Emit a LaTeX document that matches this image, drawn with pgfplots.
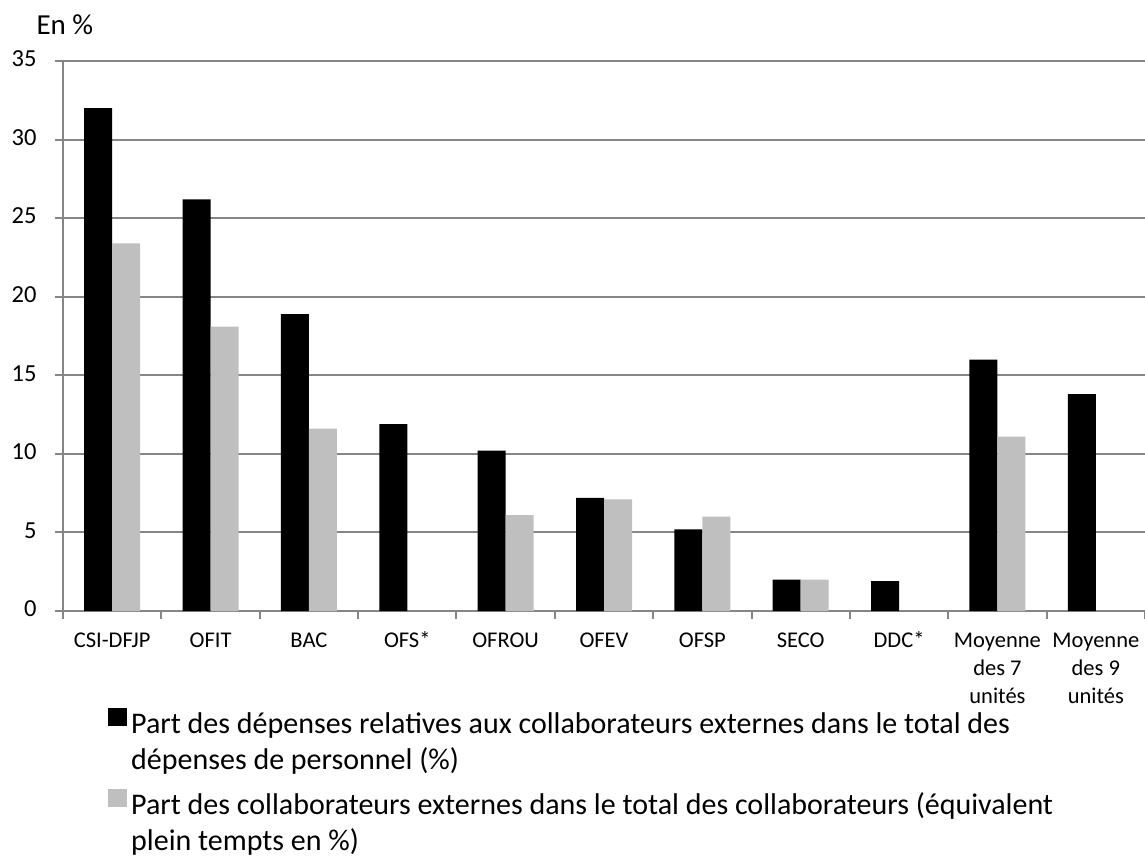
\documentclass[border=0pt]{standalone}
\usepackage{fontspec}
\setmainfont{Carlito}
\usepackage{pgfplots}
\pgfplotsset{compat=1.18}
\definecolor{bargray}{HTML}{BFBFBF}
\definecolor{gridgray}{HTML}{868686}
\begin{document}
\begin{tikzpicture}
\path[use as bounding box] (-63pt,-246pt) rectangle (1082pt,611pt);
\begin{axis}[
  at={(0pt,0pt)}, anchor=south west,
  scale only axis, width=1082pt, height=550pt,
  xmin=-0.5, xmax=10.5, ymin=0, ymax=35,
  ybar=0pt, bar width=28pt,
  axis x line*=bottom, axis y line*=left,
  axis line style={draw=gridgray, line width=2pt},
  ymajorgrids, grid style={draw=gridgray, line width=2pt},
  ytick={0,5,...,35},
  xtick={-0.5,0.5,...,10.5},
  x tick label as interval,
  xticklabels={CSI-DFJP,OFIT,BAC,OFS*,OFROU,OFEV,OFSP,SECO,DDC*,{Moyenne\\[1pt]des 7\\[1pt]unités},{Moyenne\\[1pt]des 9\\[1pt]unités}},
  typeset ticklabels with strut,
  tick align=outside, major tick length=8pt,
  tick style={draw=gridgray, line width=2pt},
  /pgf/number format/assume math mode=true,
  yticklabel style={font=\fontsize{24.5}{29}\selectfont, xshift=-15pt},
  xticklabel style={font=\fontsize{22.5}{27}\selectfont, align=center, yshift=-6pt},
  ylabel={En \%},
  every axis y label/.style={at={(rel axis cs:0,1)}, anchor=base west, xshift=-30pt, yshift=26pt, font=\fontsize{29}{34}\selectfont},
  legend style={at={(rel axis cs:0,0)}, anchor=north west, xshift=45pt, yshift=-97pt,
    draw=none, fill=none, inner sep=0pt, font=\fontsize{30}{36}\selectfont,
    nodes={inner sep=0pt, text height=22pt, text depth=7pt},
    cells={anchor=base west}, row sep=7pt, column sep=4pt},
  legend cell align=left,
  legend image code/.code={\fill[#1] (0pt,0pt) rectangle (19pt,18pt);},
]
\addlegendimage{fill=black, draw=none}
\addlegendentry{Part des dépenses relatives aux collaborateurs externes dans le total des}
\addlegendimage{empty legend}
\addlegendentry[text depth=12pt]{dépenses de personnel (\%)}
\addlegendimage{fill=bargray, draw=none}
\addlegendentry{Part des collaborateurs externes dans le total des collaborateurs (équivalent}
\addlegendimage{empty legend}
\addlegendentry{plein tempts en \%)}
\addplot[fill=black, draw=none, bar shift=-14pt, forget plot] coordinates {
  (0,32.0) (1,26.2) (2,18.9) (3,11.9) (4,10.2) (5,7.2) (6,5.2) (7,2.0) (8,1.9) (9,16.0) (10,13.8)};
\addplot[fill=bargray, draw=none, bar shift=14pt, forget plot] coordinates {
  (0,23.4) (1,18.1) (2,11.6) (4,6.1) (5,7.1) (6,6.0) (7,2.0) (9,11.1)};
\end{axis}
\end{tikzpicture}
\end{document}
